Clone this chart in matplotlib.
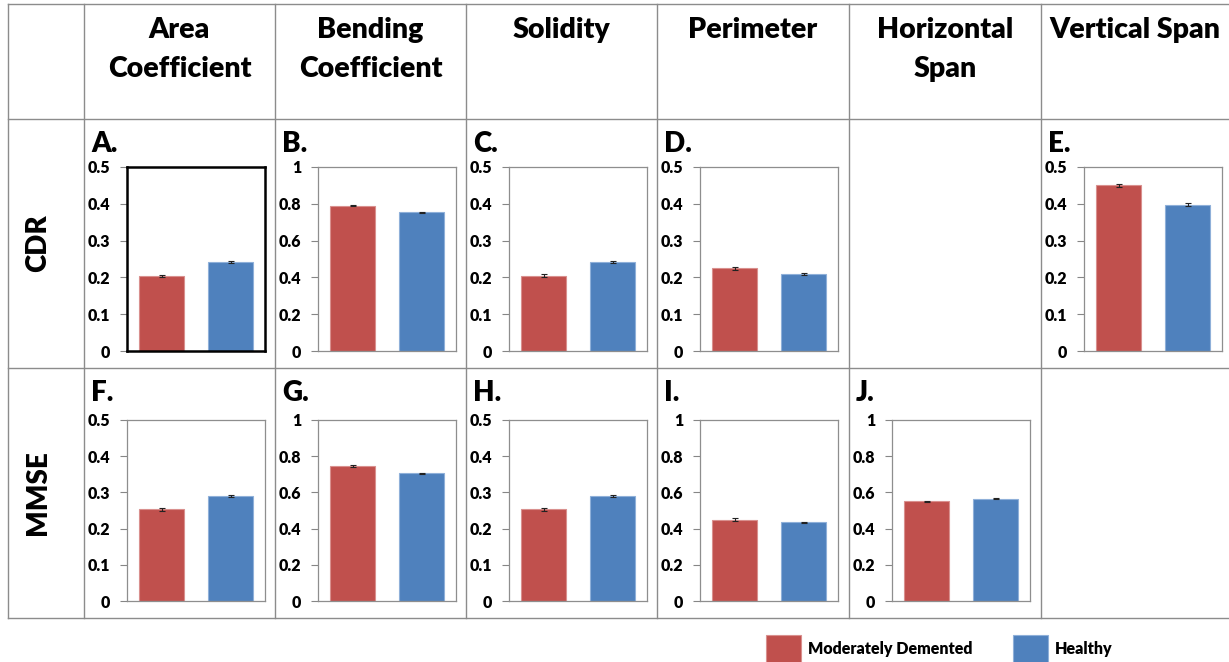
import matplotlib
matplotlib.use("Agg")
import numpy as np
import matplotlib.pyplot as plt
from matplotlib.patches import Rectangle
from matplotlib.lines import Line2D

W, H = 1229, 662
plt.rcParams['font.family'] = ['Lato', 'DejaVu Sans']
plt.rcParams['font.weight'] = 'bold'

# ---- data ----
measures = ["Area\nCoefficient", "Bending\nCoefficient", "Solidity",
            "Perimeter", "Horizontal\nSpan", "Vertical Span"]
scales = ["CDR", "MMSE"]
groups = ["Moderately Demented", "Healthy"]
colors = ["#C0504D", "#4F81BD"]
edge_colors = ["#D9908E", "#8FB0D9"]

panel_labels = ["A.", "B.", "C.", "D.", "E.", "F.", "G.", "H.", "I.", "J."]
panel_rows = [0, 0, 0, 0, 0, 1, 1, 1, 1, 1]
panel_cols = [0, 1, 2, 3, 5, 0, 1, 2, 3, 4]
panel_ymax = [0.5, 1, 0.5, 0.5, 0.5, 0.5, 1, 0.5, 1, 1]
demented_means = [0.203, 0.790, 0.205, 0.225, 0.450, 0.253, 0.745, 0.253, 0.450, 0.550]
healthy_means = [0.242, 0.755, 0.242, 0.210, 0.398, 0.289, 0.705, 0.289, 0.435, 0.565]
demented_err = [0.003, 0.004, 0.003, 0.004, 0.004, 0.005, 0.005, 0.005, 0.007, 0.005]
healthy_err = [0.002, 0.003, 0.002, 0.003, 0.003, 0.003, 0.004, 0.003, 0.004, 0.004]

# ---- layout (pixels) ----
col_edges = [8, 84, 275, 466, 657, 849, 1041, 1229]
row_edges = [4, 119, 368, 618]
axes_rows = [(167, 351), (420, 601)]
grid_color = "#8C8C8C"
header_baseline = 38
header_line_gap = 39

fig = plt.figure(figsize=(W / 100, H / 100), dpi=100)
fig.patch.set_facecolor("white")


def fx(x):
    return x / W


def fy(y):
    return 1 - y / H


# table lines
for y in row_edges:
    fig.add_artist(Line2D([fx(col_edges[0]), fx(W)], [fy(y), fy(y)],
                          color=grid_color, lw=1.0, transform=fig.transFigure))
for x in col_edges[:-1]:
    fig.add_artist(Line2D([fx(x), fx(x)], [fy(row_edges[0]), fy(row_edges[-1])],
                          color=grid_color, lw=1.0, transform=fig.transFigure))

# column headers, one text line at a time so the baselines sit on a fixed grid
for i, m in enumerate(measures):
    cx = (col_edges[i + 1] + col_edges[i + 2]) / 2
    for j, line in enumerate(m.split("\n")):
        fig.text(fx(cx), fy(header_baseline + j * header_line_gap), line,
                 ha="center", va="baseline", fontsize=20.5, fontweight="heavy")

# row headers
for r, s in enumerate(scales):
    cy = (row_edges[r + 1] + row_edges[r + 2]) / 2
    fig.text(fx((col_edges[0] + col_edges[1]) / 2 - 8), fy(cy), s, rotation=90,
             ha="center", va="center", fontsize=20, fontweight="heavy")

# bar panels
for k in range(len(panel_labels)):
    r, c = panel_rows[k], panel_cols[k]
    col_left = col_edges[c + 1]
    top, bottom = axes_rows[r]
    left = col_left + 43
    width = 138
    ax = fig.add_axes([fx(left), fy(bottom), width / W, (bottom - top) / H])
    ax.bar([0, 1], [demented_means[k], healthy_means[k]], width=0.66,
           color=colors, edgecolor=edge_colors, linewidth=0.8,
           yerr=[demented_err[k], healthy_err[k]],
           error_kw=dict(ecolor="#222222", elinewidth=0.8, capsize=2, capthick=0.8))
    ymax = panel_ymax[k]
    ax.set_xlim(-0.5, 1.5)
    ax.set_ylim(0, ymax)
    ticks = np.linspace(0, ymax, 6)
    ax.set_yticks(ticks)
    ax.set_yticklabels(["{:g}".format(round(t, 2)) for t in ticks],
                       fontsize=11.5, fontweight="heavy")
    ax.set_xticks([])
    ax.tick_params(axis="y", direction="out", length=5, width=0.8,
                   color="#868686", pad=7)
    border = "black" if k == 0 else "#8E8E8E"
    lw = 1.8 if k == 0 else 0.9
    for sp in ax.spines.values():
        sp.set_color(border)
        sp.set_linewidth(lw)
    fig.text(fx(col_left + 7), fy(row_edges[r + 1] + 33), panel_labels[k],
             ha="left", va="baseline", fontsize=20, fontweight="heavy")

# legend
legend_x = [766, 1013]
for i, g in enumerate(groups):
    fig.add_artist(Rectangle((fx(legend_x[i]), fy(670)), 35 / W, 35 / H,
                             facecolor=colors[i], edgecolor=edge_colors[i],
                             lw=0.8, transform=fig.transFigure))
    fig.text(fx(legend_x[i] + 42), fy(649), g, ha="left", va="center",
             fontsize=11.5, fontweight="heavy")

fig.savefig("out.png", dpi=100)
